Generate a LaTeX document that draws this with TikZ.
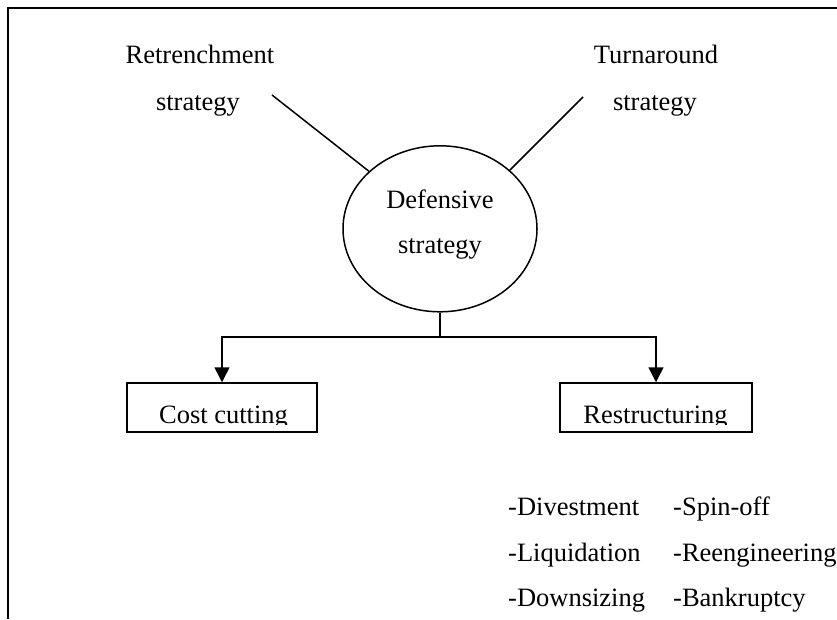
\documentclass[tikz,border=0pt]{standalone}
\usepackage{fontspec}
\setmainfont{Liberation Serif}
\usetikzlibrary{arrows.meta,shapes.geometric}
\begin{document}
\begin{tikzpicture}[x=1pt,y=-1pt,
  txt/.style={font=\fontsize{26.5}{32}\selectfont, inner sep=0pt},
  link/.style={line width=1.5pt},
  flow/.style={line width=1.5pt,-{Triangle[length=15pt,width=15pt]}},
  box/.style={draw,line width=1.5pt,minimum width=190pt,minimum height=49pt,inner sep=0pt}]
\useasboundingbox (0,0) rectangle (837,619);
% outer frame (top and left edges)
\draw[line width=1.8pt] (8,619) -- (8,8) -- (837,8);

% strategy labels
\node[txt,anchor=base] (retA) at (200,63) {Retrenchment};
\node[txt,anchor=base] (retB) at (198,110) {strategy};
\node[txt,anchor=base] (turA) at (656,63) {Turnaround};
\node[txt,anchor=base] (turB) at (655,110) {strategy};

% central ellipse
\node[draw,ellipse,line width=1.5pt,minimum width=194pt,minimum height=166pt,inner sep=0pt] (def) at (440,228.8) {};
\node[txt,anchor=base] (defA) at (440,208) {Defensive};
\node[txt,anchor=base] (defB) at (440,253) {strategy};

\coordinate (retEnd) at (272,95);
\coordinate (turEnd) at (583,97);
\draw[link] (retEnd) -- (def.141);
\draw[link] (turEnd) -- (def.40);

% outcome boxes
\node[box] (cost) at (222,407.5) {};
\node[box,minimum width=192pt] (restr) at (656,407.5) {};
\begin{scope}
  \clip (127,383) rectangle (752,424);
  \node[txt,anchor=base] (costT) at (223.5,423) {Cost cutting};
  \node[txt,anchor=base] (restrT) at (655.5,423) {Restructuring};
\end{scope}

% branching arrows
\coordinate (junc) at (440,337);
\draw[link] (def.south) -- (junc);
\draw[flow] (junc) -| (cost.north);
\draw[flow] (junc) -| (restr.north);

% restructuring options
\node[txt,anchor=base west] (o1) at (508,515) {-Divestment};
\node[txt,anchor=base west] (o2) at (508,561) {-Liquidation};
\node[txt,anchor=base west] (o3) at (508,606) {-Downsizing};
\node[txt,anchor=base west] (o4) at (673,515) {-Spin-off};
\node[txt,anchor=base west] (o5) at (673,561) {-Reengineering};
\node[txt,anchor=base west] (o6) at (673,606) {-Bankruptcy};
\end{tikzpicture}
\end{document}
